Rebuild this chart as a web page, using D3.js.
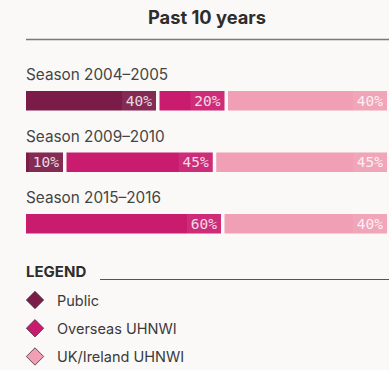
<!DOCTYPE html>
<html>
<head>
<meta charset="utf-8">
<script src="https://cdn.jsdelivr.net/npm/d3@7"></script>
<style>
  html, body { margin: 0; padding: 0; background: #faf9f7; }
  svg { display: block; }
</style>
</head>
<body>
<svg id="chart" width="389" height="370"></svg>
<script>
// Funding split per season (percent of total)
const seasons = ["Season 2004\u20132005", "Season 2009\u20132010", "Season 2015\u20132016"];
const sources = ["Public", "Overseas UHNWI", "UK/Ireland UHNWI"];
const publicShare   = [40, 10, 0];
const overseasShare = [20, 45, 60];
const ukShare       = [40, 45, 40];
const colors = ["#7b1b48", "#c91c6e", "#f09fb4"];
const title = "Past 10 years";
const legendTitle = "LEGEND";

const W = 389;
const left = 26, right = 387;
const gap = 3.5, minSeg = 37;

const svg = d3.select("#chart");
const sans = "Inter, Roboto, sans-serif";
const mono = "'DejaVu Sans Mono', monospace";

// Title and rule
svg.append("text").attr("x", 207).attr("y", 24)
  .attr("text-anchor", "middle").attr("font-family", sans)
  .attr("font-weight", 700).attr("font-size", 18.3).attr("fill", "#2d2d2d")
  .text(title);
svg.append("line").attr("x1", left).attr("x2", W).attr("y1", 39.5).attr("y2", 39.5)
  .attr("stroke", "#7a7a7a").attr("stroke-width", 1.5);

// Segment length scale: percentage -> pixels
const x = d3.scaleLinear().domain([0, 100]).range([0, 325]);
const y = d3.scaleBand().domain(seasons).range([91, 91 + 3 * 61.5]).paddingInner(0);

const rows = seasons.map((s, i) => {
  const vals = [publicShare[i], overseasShare[i], ukShare[i]];
  const segs = [];
  let cx = left;
  const present = vals.map((v, k) => ({v, k})).filter(d => d.v > 0);
  present.forEach((d, j) => {
    const last = j === present.length - 1;
    const w = last ? right - cx : Math.max(x(d.v), minSeg);
    segs.push({season: s, value: d.v, key: d.k, x0: cx, w});
    cx += w + gap;
  });
  return {season: s, segs};
});

const barH = 19.5;
const row = svg.selectAll("g.row").data(rows).join("g").attr("class", "row")
  .attr("transform", d => `translate(0,${y(d.season)})`);

row.append("text").attr("x", left).attr("y", -11)
  .attr("font-family", sans).attr("font-size", 15.3).attr("fill", "#444")
  .text(d => d.season);

const seg = row.selectAll("g.seg").data(d => d.segs).join("g").attr("class", "seg");
seg.append("rect").attr("x", d => d.x0).attr("y", 0)
  .attr("width", d => d.w).attr("height", barH)
  .attr("fill", d => colors[d.key]);
// faint highlight box behind each value label
seg.append("rect").attr("x", d => d.x0 + d.w - 34).attr("y", 0)
  .attr("width", 34).attr("height", barH)
  .attr("fill", "#fff").attr("opacity", 0.07);
seg.append("text").attr("x", d => d.x0 + d.w - 4).attr("y", barH / 2 + 5)
  .attr("text-anchor", "end").attr("font-family", mono).attr("font-size", 14.5)
  .attr("fill", "#fff").attr("opacity", 0.82)
  .text(d => d.value + "%");

// Legend
svg.append("text").attr("x", left).attr("y", 277)
  .attr("font-family", sans).attr("font-weight", 700).attr("font-size", 15)
  .attr("fill", "#2d2d2d").text(legendTitle);
svg.append("line").attr("x1", 100).attr("x2", W).attr("y1", 279.5).attr("y2", 279.5)
  .attr("stroke", "#555").attr("stroke-width", 1.2);

const ly = d3.scalePoint().domain(sources).range([300, 356.5]);
const item = svg.selectAll("g.legend").data(sources).join("g").attr("class", "legend")
  .attr("transform", d => `translate(35,${ly(d)})`);
item.append("path")
  .attr("d", d3.symbol(d3.symbolSquare, 150))
  .attr("transform", "rotate(45)")
  .attr("fill", (d, i) => colors[i])
  .attr("stroke", "#4a3a40").attr("stroke-width", 0.8);
item.append("text").attr("x", 22).attr("y", 5.5)
  .attr("font-family", sans).attr("font-size", 14.5).attr("fill", "#3a3a3a")
  .text(d => d);
</script>
</body>
</html>
